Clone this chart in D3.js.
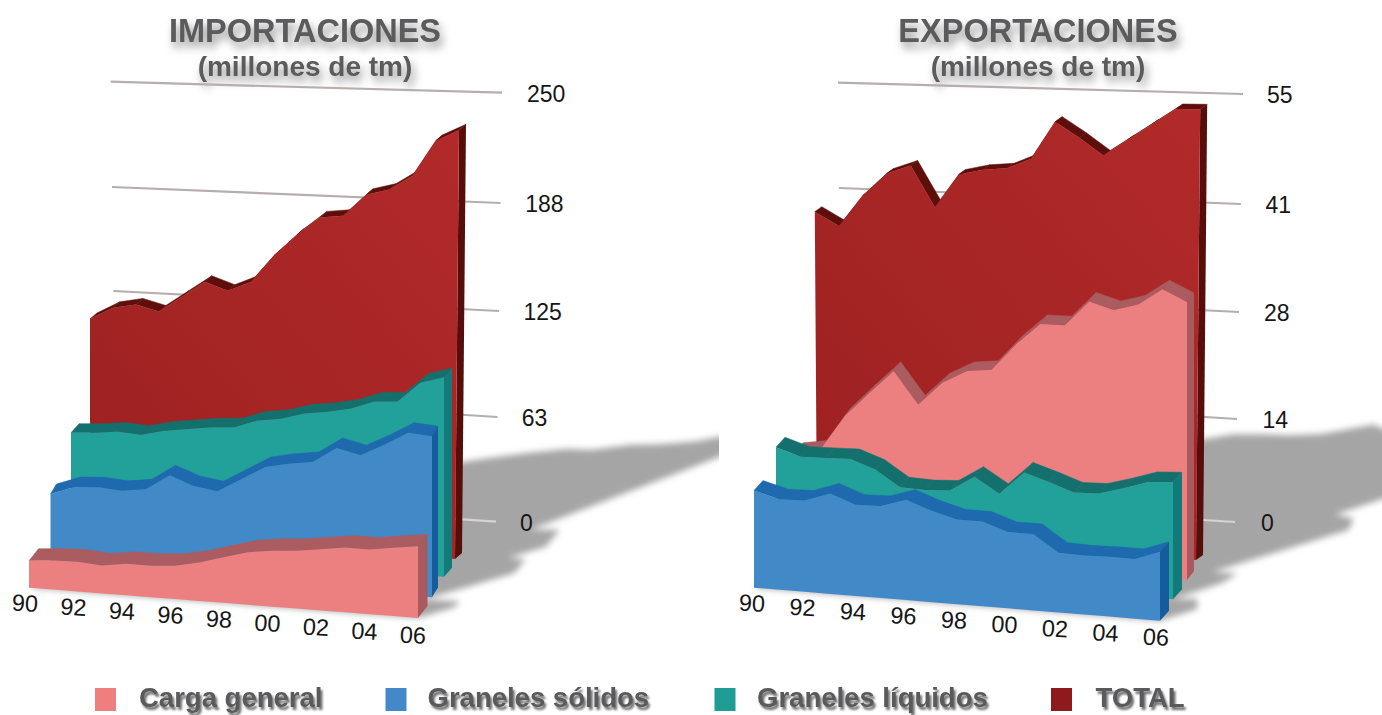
<!DOCTYPE html>
<html>
<head>
<meta charset="utf-8">
<title>Importaciones y exportaciones</title>
<script src="https://cdnjs.cloudflare.com/ajax/libs/d3/7.8.5/d3.min.js"></script>
<style>
  body { margin: 0; background: #fff; }
  svg { display: block; font-family: "Liberation Sans", Arial, sans-serif; }
  .title { font-weight: bold; fill: #5b5b5d; text-anchor: middle; filter: drop-shadow(3px 6px 4px rgba(60,60,60,.55)); }
  .legend-text { font-weight: bold; fill: #5a5a5c; font-size: 27.5px; filter: drop-shadow(2px 3px 1.2px rgba(50,50,50,.7)); }
  .tick-label { font-size: 23px; fill: #161616; }
  .year-label { font-size: 23.5px; fill: #161616; text-anchor: middle; }
</style>
</head>
<body>
<script>
var width = 1382, height = 715;

var years = [1990,1991,1992,1993,1994,1995,1996,1997,1998,1999,2000,2001,2002,2003,2004,2005,2006];
var yearLabels = ["90","92","94","96","98","00","02","04","06"];
var yearLabelYears = [1990,1992,1994,1996,1998,2000,2002,2004,2006];

// millones de tm
var impCarga   = [15.4,16.6,17,16,18,18,19,22,26,30,32,33,35,37,37,39,41];
var impSolidos = [42,47,48,47,49,58,53,51,59,67,70,72,81,78,85,93,92];
var impLiquidos= [65.7,66.7,68.4,67.6,71,73,75,76,81,83,87,89,92,97,98,110,114];
var impTotal   = [120.6,128,131,128,137.5,147,143,149,165,178,189,191,204,208,217,238,245];

var expCarga   = [11.6,12.1,16.4,19.4,22.3,18.5,21.4,23,23.4,26.7,29.4,29.5,32.6,31.8,32.7,34.8,33.5];
var expSolidos = [11.7,10.9,11,12.1,11,11.1,12.1,11,10.2,10.2,9.2,9.2,7.2,7.1,7.2,7.2,8.3];
var expLiquidos= [14.4,13.5,13.6,13.7,12.7,10.8,10.7,10.9,12.8,11,13.8,12.9,11.9,12,12.9,13.9,14.1];
var expTotal   = [38.2,36.7,40.6,43.5,44.7,39.9,44.1,44.9,45.3,46.7,51.4,49.7,47.8,49.9,52,54.1,54.3];

var impTicks = [0,63,125,188,250];
var expTicks = [0,14,28,41,55];

var legendNames = ["Carga general","Graneles sólidos","Graneles líquidos","TOTAL"];
var legendColors = ["#ee7f7e","#4388c8","#1f9c93","#8e1a1d"];

var colCarga   = {front:"#ec8080", band:"#aa5c60", side:"#a85a5e"};
var colSolidos = {front:"#4289c8", band:"#1f69ae", side:"#155c9c"};
var colLiquidos= {front:"#22a09a", band:"#14706c", side:"#127a78"};
var colTotal   = {front:"url(#totalFill)", band:"#5f0f0b", side:"#560e0a"};

var svg = d3.select("body").append("svg")
    .attr("width", width)
    .attr("height", height);

var defs = svg.append("defs");
defs.append("filter").attr("id","blur")
    .attr("x","-10%").attr("y","-10%").attr("width","120%").attr("height","120%")
  .append("feGaussianBlur").attr("stdDeviation",3);
defs.append("clipPath").attr("id","clipLeft")
  .append("rect").attr("x",0).attr("y",0).attr("width",719).attr("height",height);
var grad = defs.append("linearGradient").attr("id","totalFill")
    .attr("x1",0).attr("y1",1).attr("x2",1).attr("y2",0);
grad.append("stop").attr("offset","0%").attr("stop-color","#9c2020");
grad.append("stop").attr("offset","100%").attr("stop-color","#b22a2a");

function layerPoints(values, o){
    var x = d3.scaleLinear().domain([1990,2006]).range([o.x0,o.x1]);
    var base = d3.scaleLinear().domain([1990,2006]).range([o.y0,o.y1]);
    var h = d3.scaleLinear().domain([0,o.max]).range([0,o.hpx]);
    var lean = d3.scaleLinear().domain([1990,2006]).range([o.lean0||0,o.lean1||0]);
    return years.map(function(yr,i){
        var hh = h(values[i]);
        return {x:x(yr)+lean(yr)*hh/430, y:base(yr)-hh, bx:x(yr), by:base(yr), h:hh};
    });
}

function poly(list){
    return "M" + list.map(function(p){ return p[0]+","+p[1]; }).join("L") + "Z";
}

// sombra en el suelo: la base mas la proyeccion de la cresta, con punta roma
function drawShadow(g, values, o){
    var pts = layerPoints(values,o);
    var sx = o.sx || 0.58, sy = o.sy || -0.235;
    var lowX = o.lowX || 0.51, lowY = o.lowY || -0.15;
    var last = pts[pts.length-1];
    var ground = pts.map(function(p){ return [p.bx,p.by]; });
    var tip = [[last.bx+lowX*last.h, last.by+lowY*last.h]];
    var cast = pts.map(function(p){ return [p.bx+sx*p.h, p.by+sy*p.h]; }).reverse();
    g.append("path").attr("d",poly(ground.concat(tip,cast))).attr("fill","#a5a5a5");
}

function drawLayer(g, values, o, col){
    var pts = layerPoints(values,o);
    var last = pts[pts.length-1];

    // franja superior, tramo a tramo
    g.selectAll(null)
        .data(d3.pairs(pts))
        .enter().append("path")
        .attr("d",function(d){
            return poly([[d[0].x,d[0].y],[d[1].x,d[1].y],[d[1].x+o.dx,d[1].y+o.dy],[d[0].x+o.dx,d[0].y+o.dy]]);
        })
        .attr("fill",col.band)
        .attr("stroke",col.band)
        .attr("stroke-width",0.5);

    // lateral derecho
    g.append("path")
        .attr("d",poly([[last.x,last.y],[last.x+o.dx,last.y+o.dy],[last.bx+o.dx,last.by+o.dy],[last.bx,last.by]]))
        .attr("fill",col.side);

    var area = d3.area()
        .x0(function(d){ return d.bx; })
        .y0(function(d){ return d.by; })
        .x1(function(d){ return d.x; })
        .y1(function(d){ return d.y; });
    g.append("path").attr("d",area(pts)).attr("fill",col.front);
}

function drawGrid(g, ticks, o){
    var yLeft = d3.scaleLinear().domain(ticks).range(o.yLeft);
    var yRight = d3.scaleLinear().domain(ticks).range(o.yRight);
    var xLeft = d3.scaleLinear().domain([ticks[0],ticks[4]]).range(o.xLeft);
    var xRight = d3.scaleLinear().domain([ticks[0],ticks[4]]).range(o.xRight);

    g.selectAll(".grid")
        .data(ticks)
        .enter().append("line")
        .attr("class","grid")
        .attr("x1",function(d){ return xLeft(d); })
        .attr("y1",function(d){ return yLeft(d); })
        .attr("x2",function(d){ return xRight(d); })
        .attr("y2",function(d){ return yRight(d); })
        .attr("stroke",function(d){ return d===0 ? "#d6d3d2" : "#b5aeab"; })
        .attr("stroke-width",2.2);

    g.selectAll(".tick-label")
        .data(ticks)
        .enter().append("text")
        .attr("class","tick-label")
        .attr("x",function(d){ return d3.scaleLinear().domain([ticks[0],ticks[4]]).range(o.xLabel)(d); })
        .attr("y",function(d){ return yRight(d)+1; })
        .attr("dy","0.35em")
        .text(function(d){ return d; });
}

function drawYears(g, o){
    var x = d3.scaleLinear().domain([1990,2006]).range(o.x);
    var y = d3.scaleLinear().domain([1990,2006]).range(o.y);
    g.selectAll(".year-label")
        .data(yearLabelYears)
        .enter().append("text")
        .attr("class","year-label")
        .attr("dy","0.35em")
        .attr("transform",function(d){ return "translate("+x(d)+","+y(d)+") rotate(3)"; })
        .text(function(d,i){ return yearLabels[i]; });
}

function drawTitle(cx, line1, line2){
    svg.append("text").attr("class","title").attr("x",cx).attr("y",42).style("font-size","32.5px").text(line1);
    svg.append("text").attr("class","title").attr("x",cx).attr("y",76).style("font-size","28px").text(line2);
}

// IMPORTACIONES
var impScale = {max:250, hpx:437.5};
var impLayers = {
    total:    Object.assign({x0:90, x1:455, y0:530,   y1:559,   dx:7, dy:-6,  lean1:4, sx:0.75, sy:-0.3, lowX:0.75, lowY:-0.29}, impScale),
    liquidos: Object.assign({x0:71, x1:444, y0:547.6, y1:576.7, dx:8, dy:-9}, impScale),
    solidos:  Object.assign({x0:50.5,x1:432,y0:567.5, y1:597.3, dx:6, dy:-10}, impScale),
    carga:    Object.assign({x0:29, x1:418, y0:587.7, y1:618,   dx:9.5,dy:-12}, impScale)
};

// EXPORTACIONES
var expScale = {max:55, hpx:456.5};
var expLayers = {
    total:    Object.assign({x0:817, x1:1196, y0:528.7, y1:560, dx:7, dy:-5, lean0:-3, lean1:4, sx:0.75, sy:-0.29, lowX:0.75, lowY:-0.245}, expScale),
    carga:    Object.assign({x0:796, x1:1187, y0:548,   y1:580, dx:7, dy:-9, sx:0.6, sy:-0.22, lowX:0.58, lowY:-0.18}, expScale),
    liquidos: Object.assign({x0:776, x1:1173, y0:566.7, y1:599.3, dx:9, dy:-10, sx:0.55, sy:-0.22, lowX:0.42, lowY:-0.14}, expScale),
    solidos:  Object.assign({x0:754, x1:1160, y0:587.7, y1:620.7, dx:9, dy:-10, sx:0.54, sy:-0.32, lowX:0.54, lowY:-0.17}, expScale)
};

var shadowLeft = svg.append("g").attr("clip-path","url(#clipLeft)").append("g").attr("filter","url(#blur)");
drawShadow(shadowLeft, impTotal, impLayers.total);
drawShadow(shadowLeft, impLiquidos, impLayers.liquidos);
drawShadow(shadowLeft, impSolidos, impLayers.solidos);
drawShadow(shadowLeft, impCarga, impLayers.carga);

var shadowRight = svg.append("g").attr("filter","url(#blur)");
drawShadow(shadowRight, expTotal, expLayers.total);
drawShadow(shadowRight, expCarga, expLayers.carga);
drawShadow(shadowRight, expLiquidos, expLayers.liquidos);
drawShadow(shadowRight, expSolidos, expLayers.solidos);

drawTitle(305, "IMPORTACIONES", "(millones de tm)");
drawTitle(1038, "EXPORTACIONES", "(millones de tm)");

var left = svg.append("g");
drawGrid(left, impTicks, {
    yLeft:[496,393,291,187,81.7], yRight:[521.7,417,311,203,92.7],
    xLeft:[116,110.7], xRight:[496,502], xLabel:[520,527]
});
drawLayer(left, impTotal, impLayers.total, colTotal);
drawLayer(left, impLiquidos, impLayers.liquidos, colLiquidos);
drawLayer(left, impSolidos, impLayers.solidos, colSolidos);
drawLayer(left, impCarga, impLayers.carga, colCarga);
drawYears(left, {x:[25,413], y:[603,635]});

var right = svg.append("g");
drawGrid(right, expTicks, {
    yLeft:[497,394,292,188,82.7], yRight:[522,419,312,204,94],
    xLeft:[842,838], xRight:[1235,1243], xLabel:[1261,1267]
});
drawLayer(right, expTotal, expLayers.total, colTotal);
drawLayer(right, expCarga, expLayers.carga, colCarga);
drawLayer(right, expLiquidos, expLayers.liquidos, colLiquidos);
drawLayer(right, expSolidos, expLayers.solidos, colSolidos);
drawYears(right, {x:[752,1156], y:[603,637]});

// leyenda
var legendBox = [95,385.5,714.5,1051];
var legendText = [139,427.5,757,1095.5];
var legend = svg.selectAll(".legend")
    .data(legendNames)
    .enter().append("g")
    .attr("class","legend");
legend.append("rect")
    .attr("x",function(d,i){ return legendBox[i]; })
    .attr("y",688)
    .attr("width",21)
    .attr("height",23)
    .attr("fill",function(d,i){ return legendColors[i]; });
legend.append("text")
    .attr("class","legend-text")
    .attr("x",function(d,i){ return legendText[i]; })
    .attr("y",707)
    .text(function(d){ return d; });
</script>
</body>
</html>
